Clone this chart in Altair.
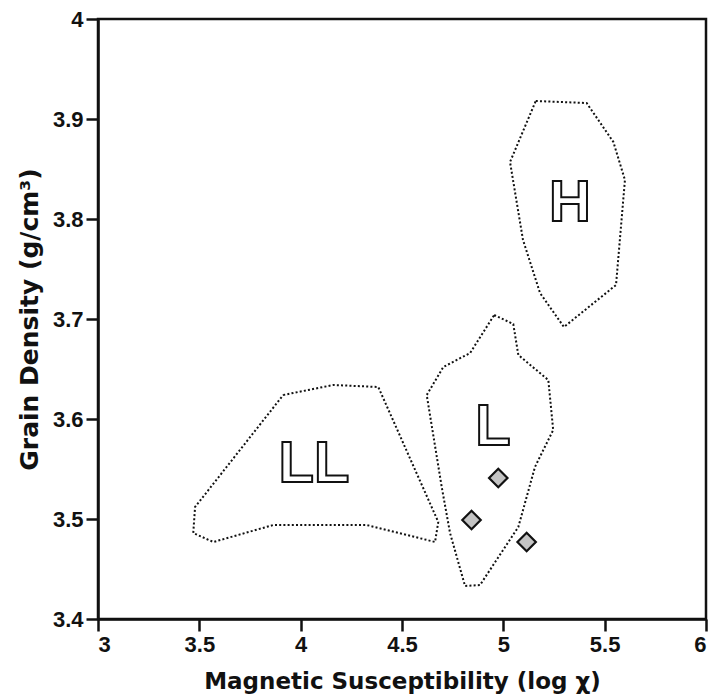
import altair as alt
import pandas as pd

# Region outlines (log chi, grain density)
h_x = [5.160, 5.411, 5.543, 5.600, 5.556, 5.299, 5.181, 5.097, 5.033]
h_y = [3.918, 3.916, 3.877, 3.839, 3.734, 3.692, 3.726, 3.779, 3.857]
l_x = [4.955, 5.049, 5.074, 5.222, 5.246, 5.156, 5.074, 4.885, 4.811, 4.737, 4.696, 4.622, 4.704, 4.836]
l_y = [3.704, 3.695, 3.664, 3.639, 3.589, 3.552, 3.492, 3.434, 3.433, 3.486, 3.532, 3.624, 3.652, 3.666]
ll_x = [3.914, 4.161, 4.383, 4.679, 4.663, 4.326, 3.865, 3.569, 3.470, 3.479]
ll_y = [3.624, 3.634, 3.632, 3.497, 3.477, 3.494, 3.494, 3.477, 3.486, 3.512]

# Sample points
pt_x = [4.975, 4.843, 5.115]
pt_y = [3.541, 3.499, 3.477]

# Region labels
lab_text = ["H", "L", "LL"]
lab_x = [5.329, 4.949, 4.066]
lab_y = [3.817, 3.593, 3.556]

rows = []
for name, xs, ys in [("H", h_x, h_y), ("L", l_x, l_y), ("LL", ll_x, ll_y)]:
    for i, (a, b) in enumerate(list(zip(xs, ys)) + [(xs[0], ys[0])]):
        rows.append({"group": name, "x": a, "y": b, "o": i})
poly = pd.DataFrame(rows)
pts = pd.DataFrame({"x": pt_x, "y": pt_y})
labs = pd.DataFrame({"t": lab_text, "x": lab_x, "y": lab_y})

xs = alt.Scale(domain=[3, 6], nice=False, zero=False)
ys = alt.Scale(domain=[3.4, 4.0], nice=False, zero=False)

xax = alt.Axis(values=[3, 3.5, 4, 4.5, 5, 5.5, 6], labelExpr="datum.value", grid=False,
               title="Magnetic Susceptibility (log χ)")
yax = alt.Axis(values=[3.4, 3.5, 3.6, 3.7, 3.8, 3.9, 4.0], labelExpr="datum.value", grid=False,
               title="Grain Density (g/cm³)")

lines = alt.Chart(poly).mark_line(strokeDash=[2, 2.2], strokeWidth=2, color="#111111").encode(
    x=alt.X("x:Q", scale=xs, axis=xax),
    y=alt.Y("y:Q", scale=ys, axis=yax),
    detail="group:N",
    order="o:Q",
)

points = alt.Chart(pts).mark_point(shape="diamond", size=340, filled=True, fill="#c4c4c4",
                                   stroke="#111111", strokeWidth=2.2, opacity=1).encode(
    x=alt.X("x:Q", scale=xs), y=alt.Y("y:Q", scale=ys)
)

texts = alt.Chart(labs).mark_text(font="Liberation Sans", fontWeight="bold", fontSize=58,
                                  fill="white", stroke="#111111", strokeWidth=2,
                                  align="center", baseline="middle", dy=2).encode(
    x=alt.X("x:Q", scale=xs), y=alt.Y("y:Q", scale=ys), text="t:N"
)

chart = alt.layer(lines, points, texts).properties(
    width=608, height=600,
    autosize=alt.AutoSizeParams(type="none"),
    padding={"left": 90, "top": 11, "right": 13, "bottom": 75},
).configure_view(stroke="#111111", strokeWidth=2.5).configure_axis(
    domainColor="#111111", domainWidth=2.5, tickColor="#111111", tickWidth=2.5, tickSize=12,
    labelFont="Liberation Sans", labelFontWeight="bold", labelFontSize=22, labelColor="#111111",
    titleFont="DejaVu Sans", titleFontWeight="bold", titleColor="#111111",
    labelPadding=3,
).configure_axisX(titlePadding=15, titleFontSize=23).configure_axisY(titlePadding=10, titleFontSize=25)

chart.save("out.html", embed_options={"renderer": "svg", "actions": False})
